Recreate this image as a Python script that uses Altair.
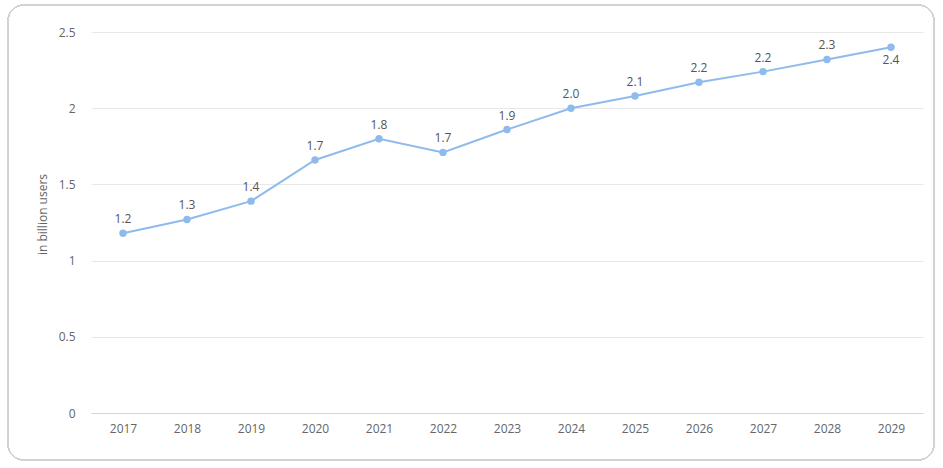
import altair as alt
import pandas as pd

years = ["2017", "2018", "2019", "2020", "2021", "2022", "2023",
         "2024", "2025", "2026", "2027", "2028", "2029"]
users = [1.18, 1.27, 1.39, 1.66, 1.80, 1.71, 1.86, 2.00, 2.08, 2.17, 2.24, 2.32, 2.40]
labels = ["1.2", "1.3", "1.4", "1.7", "1.8", "1.7", "1.9",
          "2.0", "2.1", "2.2", "2.2", "2.3", "2.4"]

df = pd.DataFrame({"year": years, "users": users, "label": labels})

FONT = "Open Sans"
LINE = "#8fbbec"

base = alt.Chart(df)

x = alt.X("year:O", title=None,
          scale=alt.Scale(paddingInner=0, paddingOuter=0, align=0.5),
          axis=alt.Axis(labelAngle=0, ticks=False, domain=True,
                        domainColor="#ccd6eb", domainWidth=1, grid=False,
                        labelColor="#666666", labelFontSize=12, labelFont=FONT,
                        labelPadding=10))
y = alt.Y("users:Q", title="in billion users",
          scale=alt.Scale(domain=[0, 2.5], nice=False, zero=True),
          axis=alt.Axis(values=[0, 0.5, 1, 1.5, 2, 2.5], ticks=False, domain=False,
                        grid=True, gridColor="#e8e8e8", gridWidth=1,
                        labelColor="#666666", labelFontSize=12, labelFont=FONT,
                        labelPadding=16,
                        labelExpr="datum.value == 0 ? '0' : format(datum.value, '~g')",
                        titleColor="#666666", titleFontSize=12, titleFont=FONT,
                        titleFontWeight="normal", titleAngle=-90,
                        titleX=-49, titleY=182, titleAlign="center",
                        titleBaseline="middle"))

frame = base.mark_rect(
    cornerRadius=16, fill="white", fillOpacity=0, stroke="#d2d2d2",
    strokeWidth=1, clip=False
).encode(x=alt.value(-83), x2=alt.value(843), y=alt.value(-27), y2=alt.value(428))

line = base.mark_line(color=LINE, strokeWidth=2).encode(x=x, y=y)
pts = base.mark_circle(color=LINE, size=55, opacity=1).encode(x=x, y=y)

txt_above = base.transform_filter(alt.datum.year != "2029").mark_text(
    dy=-14, fontSize=12, font=FONT, color="#555555"
).encode(x=x, y=y, text="label:N")
txt_below = base.transform_filter(alt.datum.year == "2029").mark_text(
    dy=13, fontSize=12, font=FONT, color="#555555"
).encode(x=x, y=y, text="label:N")

chart = alt.layer(frame, line, pts, txt_above, txt_below).properties(
    width=832, height=381,
    autosize=alt.AutoSizeParams(type="none"),
    padding={"left": 91, "top": 32, "right": 20, "bottom": 55},
    background="white",
).configure_view(stroke=None)

chart.save("out.html", embed_options={"renderer": "svg", "actions": False})
